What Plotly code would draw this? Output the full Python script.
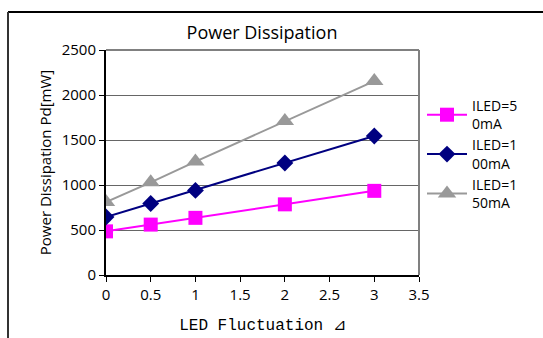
import plotly.graph_objects as go

x_vals = [0, 0.5, 1, 2, 3]
iled50 = [485, 560, 635, 785, 935]
iled100 = [645, 795, 940, 1245, 1545]
iled150 = [810, 1030, 1260, 1710, 2155]
names = ["ILED=5<br>0mA", "ILED=1<br>00mA", "ILED=1<br>50mA"]
x_ticks = [0, 0.5, 1, 1.5, 2, 2.5, 3, 3.5]
y_ticks = [0, 500, 1000, 1500, 2000, 2500]

font_main = "Open Sans, DejaVu Sans, sans-serif"

fig = go.Figure()
fig.add_trace(go.Scatter(x=x_vals, y=iled50, name=names[0], mode="lines+markers",
                         line=dict(color="#FF00FF", width=2),
                         marker=dict(symbol="square", size=14, color="#FF00FF")))
fig.add_trace(go.Scatter(x=x_vals, y=iled100, name=names[1], mode="lines+markers",
                         line=dict(color="#000080", width=2),
                         marker=dict(symbol="diamond", size=13, color="#000080")))
fig.add_trace(go.Scatter(x=x_vals, y=iled150, name=names[2], mode="lines+markers",
                         line=dict(color="#999999", width=2),
                         marker=dict(symbol="triangle-up", size=16, color="#999999")))

L, R, T, B = 106, 124, 50, 63
W, H = 543, 338
pw, ph = W - L - R, H - T - B

def px_x(p):
    return (p - L) / pw

def px_y(p):
    return (H - B - p) / ph

shapes = [
    # outer frame
    dict(type="line", xref="paper", yref="paper", x0=px_x(8), x1=px_x(560),
         y0=px_y(12), y1=px_y(12), line=dict(color="#000000", width=2)),
    dict(type="line", xref="paper", yref="paper", x0=px_x(8), x1=px_x(8),
         y0=px_y(12), y1=px_y(360), line=dict(color="#333333", width=2)),
    # plot border top/right
    dict(type="line", xref="paper", yref="paper", x0=0, x1=1, y0=1, y1=1,
         line=dict(color="#808080", width=2)),
    dict(type="line", xref="paper", yref="paper", x0=1, x1=1, y0=0, y1=1,
         line=dict(color="#808080", width=2)),
]

fig.update_layout(
    width=W, height=H,
    margin=dict(l=L, r=R, t=T, b=B, autoexpand=False),
    paper_bgcolor="white", plot_bgcolor="white",
    title=dict(text="Power Dissipation", x=(262) / W, xanchor="center",
               y=1 - 33 / H, yanchor="middle", automargin=False,
               font=dict(family=font_main, size=18, color="black")),
    font=dict(family=font_main, size=14, color="black"),
    showlegend=True,
    legend=dict(x=px_x(422), y=px_y(90), xanchor="left", yanchor="top",
                font=dict(family=font_main, size=14, color="black"),
                bgcolor="rgba(0,0,0,0)", tracegroupgap=12, itemwidth=40),
    xaxis=dict(range=[0, 3.5], tickvals=x_ticks, ticktext=[str(v) for v in x_ticks],
               automargin=False,
               showgrid=False, zeroline=False, showline=True, linecolor="black", linewidth=2,
               ticks="outside", ticklen=5, tickcolor="black", tickwidth=1,
               tickfont=dict(size=15),
               title=dict(text="LED Fluctuation ⊿", standoff=16,
                          font=dict(family="Liberation Mono, Courier New, monospace", size=16))),
    yaxis=dict(range=[0, 2500], tickvals=y_ticks, ticktext=[str(v) for v in y_ticks],
               automargin=False,
               showgrid=True, gridcolor="#666666", gridwidth=1, zeroline=False,
               showline=True, linecolor="black", linewidth=2,
               ticks="outside", ticklen=5, tickcolor="black", tickwidth=1,
               tickfont=dict(size=15),
               title=dict(text="Power Dissipation Pd[mW]", standoff=6,
                          font=dict(family=font_main, size=15))),
    shapes=shapes,
)

fig.write_html("out.html")
